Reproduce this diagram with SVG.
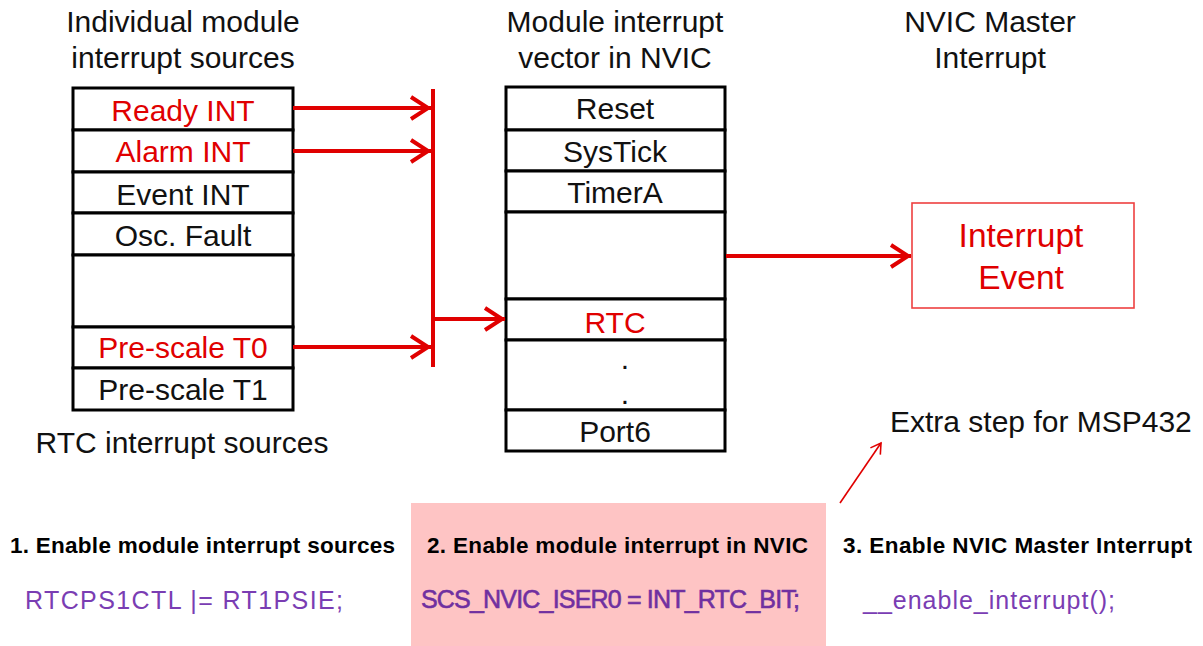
<svg xmlns="http://www.w3.org/2000/svg" width="1203" height="646" viewBox="0 0 1203 646">
  <style>
    .t { font-family: "Liberation Sans", Arial, Helvetica, sans-serif; font-size: 30px; fill: #111; text-anchor: middle; }
    .red { fill: #e00000; }
    .cell { fill: #fff; stroke: #000; stroke-width: 3; }
    .wire { fill: none; stroke: #e00000; stroke-width: 4; }
    .step { font-family: "Liberation Sans", Arial, Helvetica, sans-serif; font-size: 22.5px; font-weight: bold; fill: #000; }
    .code { font-family: "Liberation Sans", Arial, Helvetica, sans-serif; font-size: 25px; fill: #7a3db3; }
  </style>
  <defs>
    <marker id="chev" markerUnits="userSpaceOnUse" viewBox="-24 -14 28 28" refX="0" refY="0" markerWidth="28" markerHeight="28" orient="auto" overflow="visible">
      <path d="M-20,-11 L-3,0 L-20,11" fill="none" stroke="#e00000" stroke-width="4"/>
    </marker>
    <marker id="thin" markerUnits="userSpaceOnUse" viewBox="-12 -8 14 16" refX="0" refY="0" markerWidth="14" markerHeight="16" orient="auto" overflow="visible">
      <path d="M-10,-6 L0,0 L-10,6" fill="none" stroke="#e00000" stroke-width="1.6"/>
    </marker>
  </defs>

  <rect width="1203" height="646" fill="#fff"/>

  <!-- column headings -->
  <g id="headings">
    <text class="t" x="183" y="32">Individual module</text>
    <text class="t" x="183" y="68">interrupt sources</text>
    <text class="t" x="615" y="32">Module interrupt</text>
    <text class="t" x="615" y="68">vector in NVIC</text>
    <text class="t" x="990" y="32">NVIC Master</text>
    <text class="t" x="990" y="68">Interrupt</text>
  </g>

  <!-- RTC interrupt source table -->
  <g id="rtc-sources">
    <rect class="cell" x="73" y="88" width="220" height="42"/>
    <rect class="cell" x="73" y="130" width="220" height="42"/>
    <rect class="cell" x="73" y="172" width="220" height="41"/>
    <rect class="cell" x="73" y="213" width="220" height="42"/>
    <rect class="cell" x="73" y="255" width="220" height="72"/>
    <rect class="cell" x="73" y="327" width="220" height="41"/>
    <rect class="cell" x="73" y="368" width="220" height="42"/>
    <text class="t red" x="183" y="121">Ready INT</text>
    <text class="t red" x="183" y="162">Alarm INT</text>
    <text class="t" x="183" y="205">Event INT</text>
    <text class="t" x="183" y="246">Osc. Fault</text>
    <text class="t red" x="183" y="358">Pre-scale T0</text>
    <text class="t" x="183" y="400">Pre-scale T1</text>
    <text class="t" x="182" y="453">RTC interrupt sources</text>
  </g>

  <!-- NVIC vector table -->
  <g id="nvic-vectors">
    <rect class="cell" x="506" y="87" width="219" height="43"/>
    <rect class="cell" x="506" y="130" width="219" height="41"/>
    <rect class="cell" x="506" y="171" width="219" height="41"/>
    <rect class="cell" x="506" y="212" width="219" height="87"/>
    <rect class="cell" x="506" y="299" width="219" height="41"/>
    <rect class="cell" x="506" y="340" width="219" height="70"/>
    <rect class="cell" x="506" y="410" width="219" height="41"/>
    <text class="t" x="615" y="119">Reset</text>
    <text class="t" x="615" y="162">SysTick</text>
    <text class="t" x="615" y="203">TimerA</text>
    <text class="t red" x="615" y="333">RTC</text>
    <text class="t" x="625" y="369">.</text>
    <text class="t" x="625" y="404">.</text>
    <text class="t" x="615" y="442">Port6</text>
  </g>

  <!-- master interrupt event -->
  <g id="interrupt-event">
    <rect x="912" y="203" width="222" height="105" fill="#fff" stroke="#ee4040" stroke-width="1.6"/>
    <text class="t red" x="1021" y="247" style="font-size:33.5px">Interrupt</text>
    <text class="t red" x="1021" y="289" style="font-size:33.5px">Event</text>
  </g>

  <!-- connectors -->
  <g id="connectors">
    <line class="wire" x1="433" y1="89" x2="433" y2="367"/>
    <line class="wire" x1="293" y1="108" x2="431" y2="108" marker-end="url(#chev)"/>
    <line class="wire" x1="293" y1="151" x2="431" y2="151" marker-end="url(#chev)"/>
    <line class="wire" x1="293" y1="347" x2="431" y2="347" marker-end="url(#chev)"/>
    <line class="wire" x1="433" y1="319" x2="505" y2="319" marker-end="url(#chev)"/>
    <line class="wire" x1="726" y1="256" x2="911" y2="256" marker-end="url(#chev)"/>
    <line x1="840" y1="503" x2="881" y2="443" stroke="#e00000" stroke-width="1.6" marker-end="url(#thin)"/>
  </g>

  <!-- enable steps -->
  <g id="steps">
    <rect x="411" y="503" width="415" height="143" fill="#fec4c4"/>
    <text class="t" x="890" y="432" style="text-anchor:start">Extra step for MSP432</text>
    <text class="step" x="10" y="553" textLength="385" lengthAdjust="spacing">1. Enable module interrupt sources</text>
    <text class="code" x="25" y="609" textLength="318" lengthAdjust="spacing">RTCPS1CTL  |= RT1PSIE;</text>
    <text class="step" x="427" y="553" textLength="381" lengthAdjust="spacing">2. Enable module interrupt in NVIC</text>
    <text class="code" x="421" y="608" textLength="379" lengthAdjust="spacing" style="fill:#7030a0;stroke:#7030a0;stroke-width:0.6">SCS_NVIC_ISER0 = INT_RTC_BIT;</text>
    <text class="step" x="843" y="553" textLength="349" lengthAdjust="spacing">3. Enable NVIC Master Interrupt</text>
    <text class="code" x="863" y="609" textLength="252" lengthAdjust="spacing">__enable_interrupt();</text>
  </g>
</svg>
